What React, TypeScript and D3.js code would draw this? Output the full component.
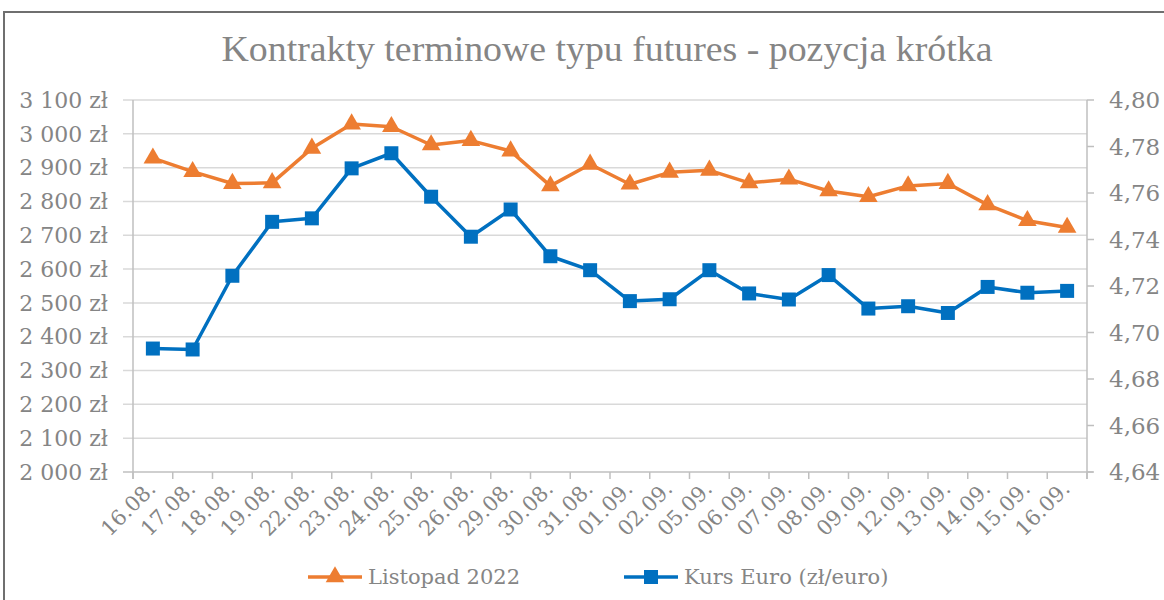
import React, { useEffect, useRef } from "react";
import * as d3 from "d3";

const dates = [
  "16.08.", "17.08.", "18.08.", "19.08.", "22.08.", "23.08.", "24.08.", "25.08.",
  "26.08.", "29.08.", "30.08.", "31.08.", "01.09.", "02.09.", "05.09.", "06.09.",
  "07.09.", "08.09.", "09.09.", "12.09.", "13.09.", "14.09.", "15.09.", "16.09.",
];

// Listopad 2022 (zł)
const listopad = [
  2928, 2888, 2853, 2855, 2957, 3029, 3021, 2967, 2980, 2949, 2846, 2910,
  2851, 2886, 2892, 2855, 2866, 2831, 2814, 2846, 2853, 2790, 2743, 2723,
];

// Kurs Euro (zł/euro)
const kursEuro = [
  4.6931, 4.6927, 4.7244, 4.7476, 4.7491, 4.7706, 4.7771, 4.7584, 4.7412, 4.7529,
  4.7328, 4.7268, 4.7135, 4.7143, 4.7268, 4.7168, 4.7142, 4.7247, 4.7103, 4.7113,
  4.7084, 4.7196, 4.7171, 4.7179,
];

const leftTicks = [2000, 2100, 2200, 2300, 2400, 2500, 2600, 2700, 2800, 2900, 3000, 3100];
const rightTicks = [4.64, 4.66, 4.68, 4.7, 4.72, 4.74, 4.76, 4.78, 4.8];

const title = "Kontrakty terminowe typu futures - pozycja krótka";
const seriesNames = ["Listopad 2022", "Kurs Euro (zł/euro)"];

const ORANGE = "#ED7D31";
const BLUE = "#0070C0";
const TEXT = "#858585";
const FONT = "'DejaVu Serif', 'Liberation Serif', serif";
const TITLE_FONT = "'Liberation Serif', serif";

const App = () => {
  const svgRef = useRef<SVGSVGElement>(null);

  useEffect(() => {
    const svg = d3.select(svgRef.current);
    svg.selectAll("*").remove();

    const width = 1164;
    const height = 600;
    const margin = { top: 100, right: 77, bottom: 128, left: 133 };
    const plotBottom = height - margin.bottom;
    const plotRight = width - margin.right;

    svg.attr("width", width).attr("height", height);

    svg.append("rect")
      .attr("width", width).attr("height", height).attr("fill", "#fff");

    // chart frame
    svg.append("rect")
      .attr("x", 4).attr("y", 12)
      .attr("width", 1300).attr("height", 700)
      .attr("fill", "none")
      .attr("stroke", "#6f6f6f")
      .attr("stroke-width", 2);

    svg.append("text")
      .attr("x", 607).attr("y", 61)
      .attr("text-anchor", "middle")
      .attr("font-family", TITLE_FONT)
      .attr("font-size", 35)
      .attr("fill", TEXT)
      .attr("textLength", 771)
      .attr("lengthAdjust", "spacingAndGlyphs")
      .text(title);

    const x = d3.scaleBand<string>()
      .domain(dates)
      .range([margin.left, plotRight]);

    const yL = d3.scaleLinear().domain([2000, 3100]).range([plotBottom, margin.top]);
    const yR = d3.scaleLinear().domain([4.64, 4.8]).range([plotBottom, margin.top]);

    // gridlines
    svg.append("g")
      .selectAll("line")
      .data(leftTicks)
      .join("line")
      .attr("x1", margin.left - 10)
      .attr("x2", d => (d === 2000 ? plotRight + 6 : plotRight))
      .attr("y1", d => yL(d))
      .attr("y2", d => yL(d))
      .attr("stroke", d => (d === 2000 ? "#bfbfbf" : "#d9d9d9"))
      .attr("stroke-width", 1.5);

    // left axis line
    svg.append("line")
      .attr("x1", margin.left).attr("x2", margin.left)
      .attr("y1", margin.top).attr("y2", plotBottom + 7)
      .attr("stroke", "#bfbfbf").attr("stroke-width", 1.5);

    // right axis
    svg.append("line")
      .attr("x1", plotRight).attr("x2", plotRight)
      .attr("y1", margin.top).attr("y2", plotBottom + 7)
      .attr("stroke", "#bfbfbf").attr("stroke-width", 1.5);

    svg.append("g")
      .selectAll("line")
      .data(rightTicks)
      .join("line")
      .attr("x1", plotRight).attr("x2", plotRight + 7)
      .attr("y1", d => yR(d)).attr("y2", d => yR(d))
      .attr("stroke", "#bfbfbf").attr("stroke-width", 1.5);

    // category ticks
    const bounds = dates.map(d => x(d) as number).concat([plotRight]);
    svg.append("g")
      .selectAll("line")
      .data(bounds)
      .join("line")
      .attr("x1", d => d).attr("x2", d => d)
      .attr("y1", plotBottom).attr("y2", plotBottom + 7)
      .attr("stroke", "#bfbfbf").attr("stroke-width", 1.5);

    const fmtL = (v: number) => d3.format(",")(v).replace(",", " ") + " zł";
    const fmtR = (v: number) => d3.format(".2f")(v).replace(".", ",");

    svg.append("g")
      .selectAll("text")
      .data(leftTicks)
      .join("text")
      .attr("x", 108)
      .attr("y", d => yL(d))
      .attr("dy", "0.35em")
      .attr("text-anchor", "end")
      .attr("font-family", FONT)
      .attr("font-size", 22)
      .attr("fill", TEXT)
      .text(fmtL);

    svg.append("g")
      .selectAll("text")
      .data(rightTicks)
      .join("text")
      .attr("x", 1109)
      .attr("y", d => yR(d))
      .attr("dy", "0.35em")
      .attr("text-anchor", "start")
      .attr("font-family", FONT)
      .attr("font-size", 23)
      .attr("fill", TEXT)
      .text(fmtR);

    svg.append("g")
      .selectAll("text")
      .data(dates)
      .join("text")
      .attr("transform", d => {
        const cx = (x(d) as number) + x.bandwidth() / 2 + 4;
        return `translate(${cx},${plotBottom + 18}) rotate(-45)`;
      })
      .attr("text-anchor", "end")
      .attr("font-family", FONT)
      .attr("font-size", 21)
      .attr("fill", TEXT)
      .text(d => d);

    const cx = (d: string) => (x(d) as number) + x.bandwidth() / 2;

    const lineL = d3.line<number>()
      .x((_, i) => cx(dates[i]))
      .y(v => yL(v));
    const lineR = d3.line<number>()
      .x((_, i) => cx(dates[i]))
      .y(v => yR(v));

    svg.append("path")
      .datum(listopad)
      .attr("fill", "none")
      .attr("stroke", ORANGE)
      .attr("stroke-width", 3.5)
      .attr("stroke-linejoin", "round")
      .attr("d", lineL);

    svg.append("path")
      .datum(kursEuro)
      .attr("fill", "none")
      .attr("stroke", BLUE)
      .attr("stroke-width", 3.5)
      .attr("stroke-linejoin", "round")
      .attr("d", lineR);

    const tri = d3.symbol().type(d3.symbolTriangle).size(150);
    const sq = d3.symbol().type(d3.symbolSquare).size(196);

    svg.append("g")
      .selectAll("path")
      .data(listopad)
      .join("path")
      .attr("transform", (v, i) => `translate(${cx(dates[i])},${yL(v)})`)
      .attr("d", tri)
      .attr("fill", ORANGE);

    svg.append("g")
      .selectAll("path")
      .data(kursEuro)
      .join("path")
      .attr("transform", (v, i) => `translate(${cx(dates[i])},${yR(v)})`)
      .attr("d", sq)
      .attr("fill", BLUE);

    // legend
    const legend = [
      { name: seriesNames[0], color: ORANGE, sym: tri, x: 308 },
      { name: seriesNames[1], color: BLUE, sym: sq, x: 624 },
    ];
    const lg = svg.append("g");
    legend.forEach(l => {
      const ly = 577;
      lg.append("line")
        .attr("x1", l.x).attr("x2", l.x + 54)
        .attr("y1", ly).attr("y2", ly)
        .attr("stroke", l.color).attr("stroke-width", 3.5);
      lg.append("path")
        .attr("transform", `translate(${l.x + 27},${ly})`)
        .attr("d", l.sym)
        .attr("fill", l.color);
      lg.append("text")
        .attr("x", l.x + 60).attr("y", ly)
        .attr("dy", "0.35em")
        .attr("font-family", FONT)
        .attr("font-size", 21)
        .attr("fill", TEXT)
        .text(l.name);
    });
  }, []);

  return (
    <div style={{ position: "fixed", left: 0, top: 0 }}>
      <svg ref={svgRef} style={{ display: "block" }}></svg>
    </div>
  );
};

export default App;
